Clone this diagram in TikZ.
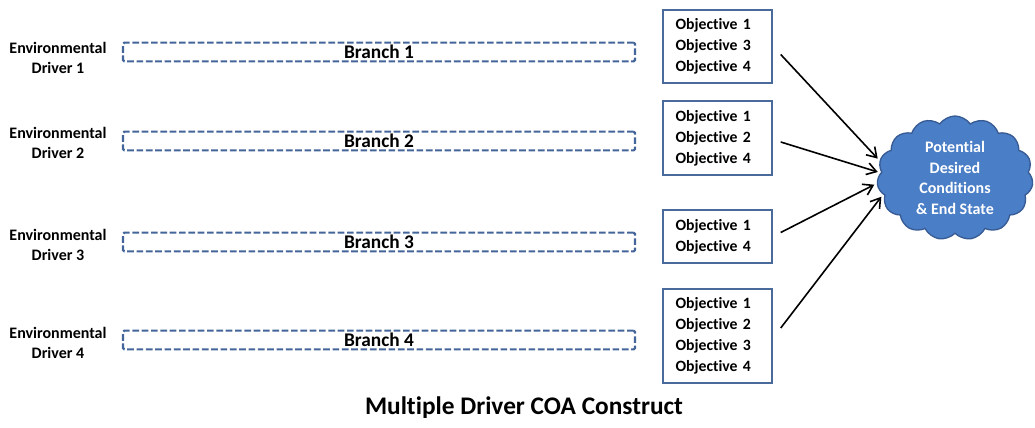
\documentclass[tikz,border=0pt]{standalone}
\usepackage{fontspec}
\setmainfont[Ligatures=NoCommon]{Carlito}
\usepackage{xcolor}
\usetikzlibrary{shapes.symbols,arrows.meta}
\definecolor{dashblue}{HTML}{44659A}
\definecolor{boxblue}{HTML}{4A6A9C}
\definecolor{cloudblue}{HTML}{4A7EC6}
\definecolor{cloudline}{HTML}{375B94}

\tikzset{
    driver/.style={align=center, font=\bfseries\fontsize{12}{15}\selectfont},
    branch/.style={draw=dashblue, line width=1.6pt, dash pattern=on 5pt off 2pt, rounded corners=1pt,
        minimum width=384pt, minimum height=14pt, inner sep=0pt, font=\bfseries\fontsize{14.5}{16}\selectfont},
    objbox/.style={draw=boxblue, line width=1.1pt, minimum width=81.75pt, text width=63pt, inner xsep=9.3pt,
        align=left, font=\bfseries\fontsize{11.8}{15.7}\selectfont},
    toCloud/.style={-{Straight Barb[length=7pt,width=9pt]}, line width=1.2pt, shorten >=2pt}
}

\begin{document}
\begin{tikzpicture}[x=0.75pt, y=-0.75pt]
    \useasboundingbox (0,0) rectangle (1035,428);

    % drivers
    \node[driver] (drv1) at (58,58) {Environmental\\Driver 1};
    \node[driver] (drv2) at (58,143) {Environmental\\Driver 2};
    \node[driver] (drv3) at (58,245) {Environmental\\Driver 3};
    \node[driver] (drv4) at (58,343) {Environmental\\Driver 4};

    % branches
    \node[branch] (br1) at (379,52) {Branch 1};
    \node[branch] (br2) at (379,141) {Branch 2};
    \node[branch] (br3) at (379,242) {Branch 3};
    \node[branch] (br4) at (379,340) {Branch 4};

    % objectives
    \node[objbox, minimum height=55pt] (obj1) at (717.5,46.5) {Objective 1\\Objective 3\\Objective 4};
    \node[objbox, minimum height=55.5pt] (obj2) at (717.5,138) {Objective 1\\Objective 2\\Objective 4};
    \node[objbox, minimum height=40pt] (obj3) at (717.5,236.5) {Objective 1\\Objective 4};
    \node[objbox, minimum height=70.5pt] (obj4) at (717.5,336) {Objective 1\\Objective 2\\Objective 3\\Objective 4};

    % end state
    \node[cloud, cloud puffs=15, cloud puff arc=110, aspect=1.3, draw=cloudline, fill=cloudblue, line width=1pt,
        minimum width=117pt, minimum height=93pt, inner sep=0pt, text=white, align=center,
        font=\bfseries\fontsize{12}{15.5}\selectfont] (state) at (955,178)
        {Potential\\Desired\\Conditions\\\& End State};

    \draw[toCloud] ([shift={(8,8)}]obj1.east) -- (state.167);
    \draw[toCloud] ([shift={(8,4)}]obj2.east) -- (state.176);
    \draw[toCloud] ([shift={(8,-4)}]obj3.east) -- (state.184);
    \draw[toCloud] ([shift={(8,-8)}]obj4.east) -- (state.193);

    \node[font=\bfseries\fontsize{19}{22}\selectfont] (title) at (524,408) {Multiple Driver COA Construct};
\end{tikzpicture}
\end{document}
